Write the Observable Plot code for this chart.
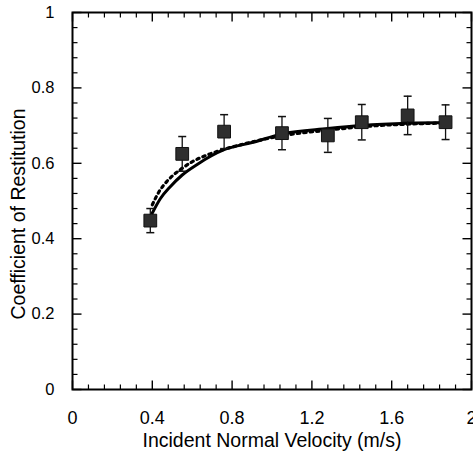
<!DOCTYPE html>
<html>
<head>
<meta charset="utf-8">
<script src="https://cdn.jsdelivr.net/npm/d3@7"></script>
<script src="https://cdn.jsdelivr.net/npm/@observablehq/plot@0.6"></script>
<style>
  html, body { margin: 0; padding: 0; background: #fff; }
  #chart svg { display: block; }
</style>
</head>
<body>
<div id="chart"></div>
<script>
// Measured data (points with error bars)
const velocity = [0.39, 0.55, 0.76, 1.05, 1.28, 1.45, 1.68, 1.87];
const cor      = [0.448, 0.625, 0.684, 0.680, 0.674, 0.709, 0.727, 0.709];
const corErr   = [0.032, 0.046, 0.045, 0.044, 0.045, 0.047, 0.051, 0.046];

// Solid model curve
const solidX = [0.40, 0.44, 0.49, 0.55, 0.625, 0.76, 0.90, 1.05, 1.28, 1.45, 1.68, 1.88];
const solidY = [0.468, 0.506, 0.538, 0.569, 0.597, 0.636, 0.655, 0.678, 0.692, 0.700, 0.706, 0.708];

// Dotted model curve
const dotX = [0.40, 0.433, 0.475, 0.54, 0.60, 0.675, 0.74, 0.85, 1.05, 1.28, 1.45, 1.68, 1.88];
const dotY = [0.490, 0.524, 0.553, 0.583, 0.604, 0.622, 0.634, 0.650, 0.673, 0.688, 0.697, 0.704, 0.707];

// Tick values
const xMajor = [0, 0.4, 0.8, 1.2, 1.6, 2];
const xMinor = [0.08, 0.16, 0.24, 0.32, 0.48, 0.56, 0.64, 0.72, 0.88, 0.96, 1.04, 1.12,
                1.28, 1.36, 1.44, 1.52, 1.68, 1.76, 1.84, 1.92];
const yMajor = [0, 0.2, 0.4, 0.6, 0.8, 1];
const yMinor = [0.04, 0.08, 0.12, 0.16, 0.24, 0.28, 0.32, 0.36, 0.44, 0.48, 0.52, 0.56,
                0.64, 0.68, 0.72, 0.76, 0.84, 0.88, 0.92, 0.96];

const xTitle = "Incident Normal Velocity (m/s)";
const yTitle = "Coefficient of Restitution";

const points = velocity.map((v, i) => ({v, c: cor[i], lo: cor[i] - corErr[i], hi: cor[i] + corErr[i]}));
const solid = solidX.map((x, i) => ({x, y: solidY[i]}));
const dotted = dotX.map((x, i) => ({x, y: dotY[i]}));

// custom symbols
const capSymbol = {
  draw(context, size) {
    const r = Math.sqrt(size) / 2;
    context.moveTo(-r, 0);
    context.lineTo(r, 0);
  }
};
// inward tick symbol: direction (dx, dy), fixed pixel length
const tickSym = (dx, dy, len) => ({
  draw(context) {
    context.moveTo(0, 0);
    context.lineTo(dx * len, dy * len);
  }
});

const fmt = d => String(d);
const tickMarks = (vals, axis, dir, len, sw) => {
  const fixed = {bottom: 0, top: 1, left: 0, right: 2}[axis];
  const opts = {symbol: tickSym(dir[0], dir[1], len), stroke: "#000", strokeWidth: sw, fill: "none", r: 3};
  return (axis === "bottom" || axis === "top")
    ? Plot.dot(vals, {...opts, x: d => d, y: () => fixed})
    : Plot.dot(vals, {...opts, y: d => d, x: () => fixed});
};

const chart = Plot.plot({
  width: 473,
  height: 463,
  marginLeft: 72,
  marginRight: 2,
  marginTop: 12,
  marginBottom: 74,
  style: {fontFamily: "'Liberation Sans', Arial, sans-serif", fontSize: "16px", background: "#fff", color: "#000"},
  x: {domain: [0, 2]},
  y: {domain: [0, 1]},
  marks: [
    // inward ticks on all four sides
    tickMarks(xMinor, "bottom", [0, -1], 5, 1.2),
    tickMarks(xMajor, "bottom", [0, -1], 9, 1.4),
    tickMarks(xMinor, "top", [0, 1], 5, 1.2),
    tickMarks(xMajor, "top", [0, 1], 9, 1.4),
    tickMarks(yMinor, "left", [1, 0], 5, 1.2),
    tickMarks(yMajor, "left", [1, 0], 9, 1.4),
    tickMarks(yMinor, "right", [-1, 0], 5, 1.2),
    tickMarks(yMajor, "right", [-1, 0], 9, 1.4),
    // tick labels
    Plot.axisX(xMajor, {anchor: "bottom", tickSize: 0, tickPadding: 22, tickFormat: fmt, label: null, fontSize: 18}),
    Plot.axisY(yMajor, {anchor: "left", tickSize: 0, tickPadding: 18, tickFormat: fmt, label: null, fontSize: 16.5}),
    Plot.frame({stroke: "#000", strokeWidth: 2}),
    // curves
    Plot.line(dotted, {x: "x", y: "y", curve: "monotone-x", stroke: "#000", strokeWidth: 3.2, strokeDasharray: "2.5,4"}),
    Plot.line(solid, {x: "x", y: "y", curve: "monotone-x", stroke: "#000", strokeWidth: 3}),
    // error bars
    Plot.ruleX(points, {x: "v", y1: "lo", y2: "hi", stroke: "#111", strokeWidth: 1.3}),
    Plot.dot(points, {x: "v", y: "hi", symbol: capSymbol, r: 4.5, stroke: "#111", strokeWidth: 1.5, fill: "none"}),
    Plot.dot(points, {x: "v", y: "lo", symbol: capSymbol, r: 4.5, stroke: "#111", strokeWidth: 1.5, fill: "none"}),
    // squares
    Plot.dot(points, {x: "v", y: "c", symbol: "square", r: 7.2, fill: "#2e2e2e", stroke: "#111", strokeWidth: 1}),
    // axis titles
    Plot.text([xTitle], {frameAnchor: "bottom", dy: 57, text: d => d, fontSize: 19.5, fill: "#000"}),
    Plot.text([yTitle], {frameAnchor: "left", textAnchor: "middle", dx: -54, dy: 13, rotate: -90, text: d => d, fontSize: 19.5, fill: "#000"})
  ]
});

document.getElementById("chart").appendChild(chart);
</script>
</body>
</html>
